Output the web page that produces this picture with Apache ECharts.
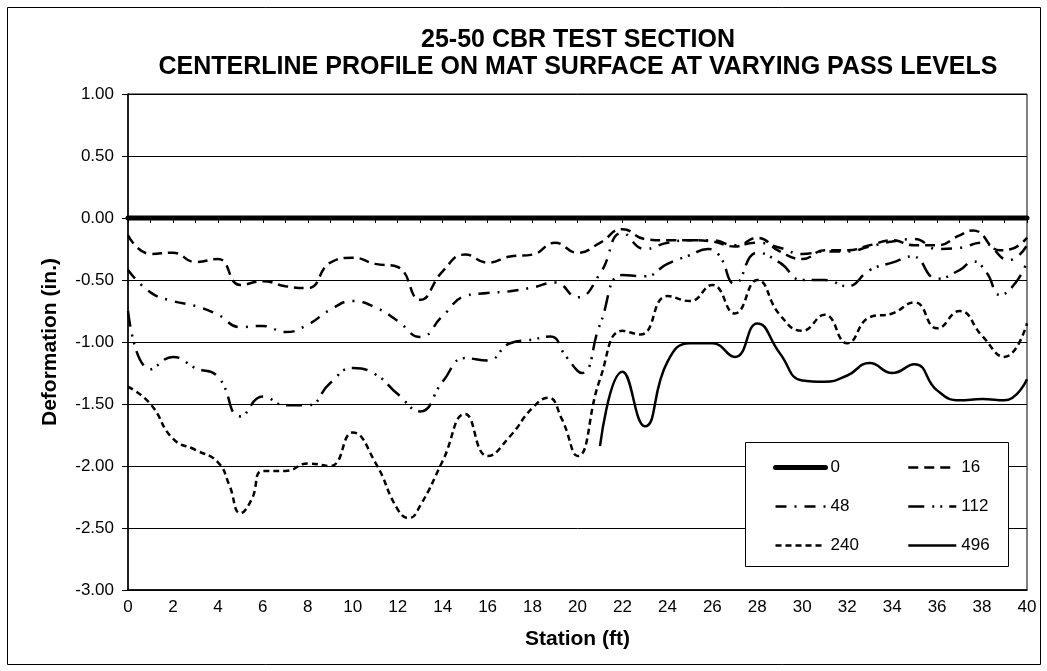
<!DOCTYPE html>
<html>
<head>
<meta charset="utf-8">
<script src="https://cdn.jsdelivr.net/npm/echarts@6/dist/echarts.min.js"></script>
<style>
  html, body { margin: 0; padding: 0; background: #fff; }
  #chart { width: 1047px; height: 671px; }
</style>
</head>
<body>
<div id="chart"></div>
<script>
// Centerline deformation profiles (in.) along the station (ft) for each pass level.
const titleLines = ['25-50 CBR TEST SECTION', 'CENTERLINE PROFILE ON MAT SURFACE AT VARYING PASS LEVELS'];
const passLevels = ['0', '16', '48', '112', '240', '496'];

const x0 = [0, 4, 8, 12, 16, 20, 24, 28, 32, 36, 40];
const y0 = [0, 0, 0, 0, 0, 0, 0, 0, 0, 0, 0];

const x16 = [0, 1, 2, 3, 4, 5, 6, 7, 8, 9, 10, 11, 12, 13, 14, 15, 16, 17, 18, 19, 20,
             21, 22, 23, 24, 25, 26, 27, 28, 29, 30, 31, 32, 33, 34, 35, 36, 37, 37.6, 38.8, 39.3, 40];
const y16 = [-0.14, -0.29, -0.28, -0.355, -0.33, -0.54, -0.51, -0.55, -0.565, -0.36, -0.32,
             -0.37, -0.395, -0.66, -0.43, -0.295, -0.36, -0.31, -0.295, -0.2, -0.28,
             -0.2, -0.09, -0.17, -0.18, -0.18, -0.19, -0.23, -0.16, -0.27, -0.33,
             -0.26, -0.26, -0.22, -0.18, -0.22, -0.22, -0.14, -0.1, -0.26, -0.25, -0.16];

const x48 = [0, 1, 2, 3, 4, 5, 6, 7, 8, 9, 10, 11, 12, 13, 14, 15, 16, 17, 18, 19, 20,
             21, 22, 23, 24, 25, 26, 27, 28, 29, 30, 31, 32, 33, 34, 35, 36, 37, 38, 39.2, 40];
const y48 = [-0.42, -0.6, -0.67, -0.71, -0.78, -0.88, -0.87, -0.92, -0.86, -0.74, -0.67,
             -0.72, -0.83, -0.96, -0.79, -0.63, -0.605, -0.59, -0.56, -0.52, -0.64,
             -0.45, -0.12, -0.25, -0.2, -0.18, -0.18, -0.22, -0.2, -0.24, -0.29,
             -0.27, -0.27, -0.23, -0.19, -0.17, -0.25, -0.24, -0.2, -0.34, -0.22];

const x112 = [0, 1, 2, 3, 4, 5, 6, 7, 8, 9, 10, 11, 12, 13, 14, 15, 16, 17, 18, 18.8, 19.5,
              20.2, 21, 22, 23, 24, 25, 25.8, 26.3, 27, 28, 29, 30, 31, 32, 33, 34, 34.9, 36,
              37, 37.6, 38.2, 38.8, 39.5, 40];
const y112 = [-0.75, -1.22, -1.12, -1.21, -1.28, -1.6, -1.44, -1.51, -1.51, -1.33, -1.21,
              -1.26, -1.42, -1.56, -1.32, -1.13, -1.15, -1.01, -0.98, -0.955, -1.12,
              -1.25, -0.86, -0.46, -0.47, -0.37, -0.3, -0.25, -0.3, -0.53, -0.28, -0.36,
              -0.5, -0.5, -0.55, -0.42, -0.36, -0.31, -0.49, -0.42, -0.35, -0.44, -0.62,
              -0.52, -0.35];

const x240 = [0, 1, 2, 3, 4, 4.5, 5, 5.5, 6, 7, 8, 9, 10, 11, 12, 12.5, 13, 14, 15, 16, 17,
              18, 18.7, 19.3, 20, 21, 22, 22.8, 24, 25, 26, 27, 28, 29, 30, 31, 32, 33, 34,
              35, 36, 37, 38, 39, 40];
const y240 = [-1.36, -1.5, -1.78, -1.87, -1.97, -2.15, -2.38, -2.27, -2.04, -2.04, -1.98,
              -2.0, -1.73, -1.97, -2.35, -2.42, -2.32, -1.96, -1.58, -1.92, -1.76, -1.53,
              -1.45, -1.62, -1.92, -1.3, -0.91, -0.94, -0.63, -0.67, -0.54, -0.77, -0.5,
              -0.78, -0.91, -0.78, -1.01, -0.8, -0.77, -0.68, -0.89, -0.75, -0.95, -1.12,
              -0.85];

const x496 = [21, 22, 23, 24, 25, 26, 27, 28, 29, 30, 31, 32, 33, 34, 35, 36, 37, 38, 39, 40];
const y496 = [-1.84, -1.24, -1.68, -1.16, -1.01, -1.01, -1.12, -0.85, -1.09, -1.31,
              -1.32, -1.27, -1.17, -1.25, -1.18, -1.39, -1.47, -1.46, -1.47, -1.3];

const FONT = '"Liberation Sans", Arial, sans-serif';
const pairs = (xs, ys) => xs.map((x, i) => [x, ys[i]]);

function lineSeries(name, xs, ys, width, dash, cap) {
  return {
    name: name,
    type: 'line',
    data: pairs(xs, ys),
    smooth: 0.5,
    symbol: 'none',
    color: '#000',
    lineStyle: { color: '#000', width: width, type: dash, cap: cap || 'butt' },
    emphasis: { disabled: true },
    z: 3
  };
}

// Legend keys show only the line pattern (same width and dash as the series), no marker.
const legendCommon = {
  orient: 'vertical', top: 454, itemHeight: 20, itemGap: 22,
  selectedMode: false, z: 20,
  itemStyle: { opacity: 0, borderWidth: 0 },
  lineStyle: { width: 'inherit', type: 'inherit', cap: 'inherit' },
  textStyle: { fontSize: 17, color: '#000', fontFamily: FONT }
};

const chart = echarts.init(document.getElementById('chart'), null, { renderer: 'canvas' });

chart.setOption({
  animation: false,
  backgroundColor: '#fff',
  textStyle: { fontFamily: FONT, color: '#000' },
  grid: {
    left: 128, right: 20, top: 94, bottom: 81,
    show: true, borderColor: '#000', borderWidth: 1, backgroundColor: 'transparent'
  },
  graphic: [
    { type: 'rect', z: 0, silent: true,
      shape: { x: 7.5, y: 7.5, width: 1033, height: 657 },
      style: { fill: 'none', stroke: '#000', lineWidth: 1 } },
    { type: 'text', z: 5, silent: true, x: 578, y: 40,
      style: { text: titleLines[0], align: 'center', verticalAlign: 'middle',
               font: 'bold 25px ' + FONT, fill: '#000' } },
    { type: 'text', z: 5, silent: true, x: 578, y: 67,
      style: { text: titleLines[1], align: 'center', verticalAlign: 'middle',
               font: 'bold 25px ' + FONT, fill: '#000' } },
    { type: 'rect', z: 10, silent: true,
      shape: { x: 745.5, y: 442.5, width: 263, height: 124 },
      style: { fill: '#fff', stroke: '#000', lineWidth: 1 } }
  ],
  legend: [
    Object.assign({ data: [passLevels[0], passLevels[2], passLevels[4]], left: 768, itemWidth: 50 }, legendCommon),
    Object.assign({ data: [passLevels[1], passLevels[3], passLevels[5]], left: 902, itemWidth: 48 }, legendCommon)
  ],
  xAxis: [
    {
      type: 'value', min: 0, max: 40, interval: 2, position: 'bottom',
      axisLine: { onZero: false, lineStyle: { color: '#000', width: 1.5 } },
      axisTick: { show: false },
      splitLine: { show: false },
      axisLabel: { fontSize: 17, color: '#000', margin: 9, fontFamily: FONT },
      name: 'Station (ft)', nameLocation: 'middle', nameGap: 39,
      nameTextStyle: { fontSize: 21, fontWeight: 'bold', color: '#000', fontFamily: FONT }
    },
    {
      type: 'value', min: 0, max: 40, interval: 1, position: 'bottom',
      axisLine: { show: true, onZero: true, lineStyle: { color: '#000', width: 1 } },
      axisTick: { show: true, length: 5, lineStyle: { color: '#000', width: 1 } },
      axisLabel: { show: false },
      splitLine: { show: false }
    }
  ],
  yAxis: {
    type: 'value', min: -3, max: 1, interval: 0.5,
    axisLine: { show: true, onZero: false, lineStyle: { color: '#000', width: 1.5 } },
    axisTick: { show: true, length: 6, lineStyle: { color: '#000', width: 1 } },
    splitLine: { show: true, lineStyle: { color: '#000', width: 1 } },
    axisLabel: { fontSize: 17, color: '#000', margin: 14, fontFamily: FONT,
                 formatter: v => v.toFixed(2) },
    name: 'Deformation (in.)', nameLocation: 'middle', nameGap: 67, nameRotate: 90,
    nameTextStyle: { fontSize: 21, fontWeight: 'bold', color: '#000', fontFamily: FONT }
  },
  series: [
    lineSeries(passLevels[0], x0, y0, 5, 'solid', 'round'),
    lineSeries(passLevels[1], x16, y16, 2.5, [10, 6]),
    lineSeries(passLevels[2], x48, y48, 2.5, [11, 8, 2, 8]),
    lineSeries(passLevels[3], x112, y112, 2.5, [16, 8, 2, 6, 2, 7]),
    lineSeries(passLevels[4], x240, y240, 2.5, [6, 4]),
    lineSeries(passLevels[5], x496, y496, 2.5, 'solid')
  ]
});
</script>
</body>
</html>
